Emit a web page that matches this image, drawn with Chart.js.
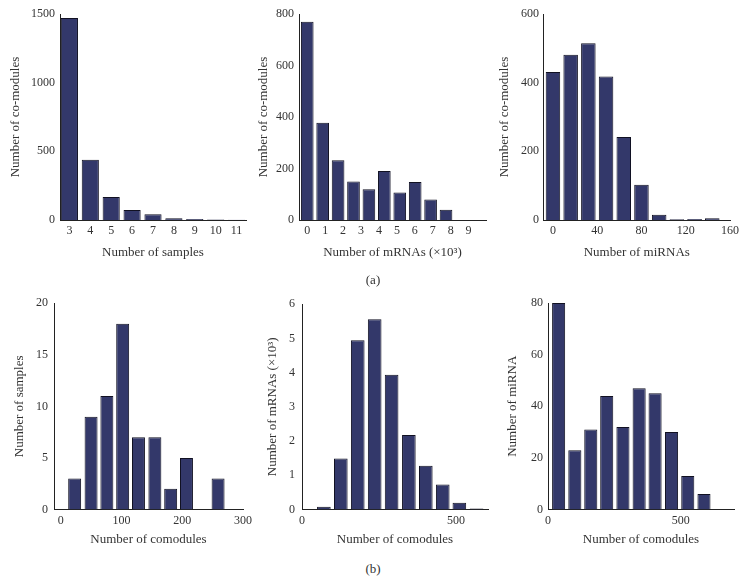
<!DOCTYPE html>
<html>
<head>
<meta charset="utf-8">
<script src="https://cdn.jsdelivr.net/npm/chart.js@4"></script>
<style>
  body { margin: 0; background: #fff; width: 746px; height: 582px; position: relative; overflow: hidden; }
  canvas { position: absolute; }
  .tag { position: absolute; width: 60px; margin-left: -30px; text-align: center;
         font: 13px "Liberation Serif", serif; color: #333; line-height: 16px; }
</style>
</head>
<body>
<canvas id="c1" width="250" height="260" style="left:8px;top:0px"></canvas>
<canvas id="c2" width="242" height="260" style="left:256px;top:0px"></canvas>
<canvas id="c3" width="246" height="260" style="left:497px;top:0px"></canvas>
<canvas id="c4" width="244" height="257" style="left:12px;top:290px"></canvas>
<canvas id="c5" width="235" height="257" style="left:265px;top:290px"></canvas>
<canvas id="c6" width="241" height="257" style="left:505px;top:290px"></canvas>
<div class="tag" style="left:373px;top:272px">(a)</div>
<div class="tag" style="left:373px;top:561px">(b)</div>
<script>
'use strict';

// (a) top row
const sampleBins = [3, 4, 5, 6, 7, 8, 9, 10, 11];
const sampleCounts = [1470, 439, 167, 73, 41, 12, 8, 3, 2];
const sampleTicks = [3, 4, 5, 6, 7, 8, 9, 10, 11];

const mrnaBins = [0, 0.86, 1.72, 2.58, 3.44, 4.3, 5.16, 6.02, 6.88, 7.74];
const mrnaCounts = [770, 378, 232, 150, 119, 190, 107, 148, 80, 40];
const mrnaTicks = [0, 1, 2, 3, 4, 5, 6, 7, 8, 9];

const mirnaBins = [0, 16, 32, 48, 64, 80, 96, 112, 128, 144];
const mirnaCounts = [431, 481, 515, 418, 242, 103, 15, 2, 3, 5];
const mirnaTicks = [0, 40, 80, 120, 160];

// (b) bottom row
const compSampleBins = [23, 50, 76, 102, 128, 155, 181, 207, 233, 259];
const compSampleCounts = [3, 9, 11, 18, 7, 7, 2, 5, 0, 3];
const compSampleTicks = [0, 100, 200, 300];

const compMrnaBins = [71, 126, 181, 236, 291, 347, 402, 457, 511, 567];
const compMrnaCounts = [0.08, 1.49, 4.95, 5.56, 3.94, 2.18, 1.28, 0.73, 0.2, 0.03];
const compMrnaTicks = [0, 500];

const compMirnaBins = [40, 101, 161, 221, 282, 343, 403, 465, 526, 587];
const compMirnaCounts = [80, 23, 31, 44, 32, 47, 45, 30, 13, 6];
const compMirnaTicks = [0, 500];

const barColor = '#33386a';
const edgeColor = '#111122';
const textColor = '#333';
const fontFamily = '"Liberation Serif", "DejaVu Serif", serif';

function setTicks(values) {
  return function (scale) {
    scale.ticks = values.map(v => ({ value: v }));
  };
}

function plainLabel(value) {
  return String(value);
}

function histChart(id, bins, counts, g) {
  let ctx = document.getElementById(id).getContext('2d');
  return new Chart(ctx, {
    type: 'bar',
    data: {
      datasets: [{
        data: bins.map((b, i) => ({ x: b, y: counts[i] })),
        backgroundColor: barColor,
        borderColor: edgeColor,
        borderWidth: 1,
        barPercentage: 0.82,
        categoryPercentage: 1
      }]
    },
    options: {
      responsive: false,
      animation: false,
      layout: { padding: { top: g.top, right: g.right, left: 0, bottom: 0 } },
      plugins: { legend: { display: false }, tooltip: { enabled: false } },
      scales: {
        x: {
          type: 'linear',
          offset: false,
          min: g.xMin,
          max: g.xMax,
          grid: { display: false, drawTicks: false },
          border: { display: true, color: '#222', width: 1 },
          ticks: { padding: 4, color: textColor, callback: plainLabel, font: { family: fontFamily, size: 12 } },
          afterBuildTicks: setTicks(g.xTicks),
          afterFit: function (scale) { scale.height = g.xHeight; },
          title: {
            display: true, text: g.xTitle, color: textColor, padding: 0,
            font: { family: fontFamily, size: 13 }
          }
        },
        y: {
          min: 0,
          max: g.yTicks[g.yTicks.length - 1],
          grid: { display: false, drawTicks: false },
          border: { display: true, color: '#222', width: 1 },
          ticks: { padding: g.yPad, color: textColor, callback: plainLabel, font: { family: fontFamily, size: 12 } },
          afterBuildTicks: setTicks(g.yTicks),
          afterFit: function (scale) { scale.width = g.yWidth; },
          title: {
            display: true, text: g.yTitle, color: textColor, padding: 0,
            font: { family: fontFamily, size: 13 }
          }
        }
      }
    }
  });
}

histChart('c1', sampleBins, sampleCounts, {
  top: 14, right: 12, xHeight: 40, yWidth: 52, yPad: 5,
  xMin: 2.55, xMax: 11.45, xTicks: sampleTicks, yTicks: [0, 500, 1000, 1500],
  xTitle: 'Number of samples', yTitle: 'Number of co-modules'
});
histChart('c2', mrnaBins, mrnaCounts, {
  top: 14, right: 12, xHeight: 40, yWidth: 43, yPad: 5,
  xMin: -0.46, xMax: 9.97, xTicks: mrnaTicks, yTicks: [0, 200, 400, 600, 800],
  xTitle: 'Number of mRNAs (×10³)', yTitle: 'Number of co-modules'
});
histChart('c3', mirnaBins, mirnaCounts, {
  top: 14, right: 12, xHeight: 40, yWidth: 46, yPad: 4,
  xMin: -9, xMax: 160.5, xTicks: mirnaTicks, yTicks: [0, 200, 400, 600],
  xTitle: 'Number of miRNAs', yTitle: 'Number of co-modules'
});
histChart('c4', compSampleBins, compSampleCounts, {
  top: 13, right: 12.5, xHeight: 37.5, yWidth: 42, yPad: 6,
  xMin: -11, xMax: 300, xTicks: compSampleTicks, yTicks: [0, 5, 10, 15, 20],
  xTitle: 'Number of comodules', yTitle: 'Number of samples'
});
histChart('c5', compMrnaBins, compMrnaCounts, {
  top: 13, right: 12, xHeight: 37.5, yWidth: 37, yPad: 7,
  xMin: 0, xMax: 604, xTicks: compMrnaTicks, yTicks: [0, 1, 2, 3, 4, 5, 6],
  xTitle: 'Number of comodules', yTitle: 'Number of mRNAs (×10³)'
});
histChart('c6', compMirnaBins, compMirnaCounts, {
  top: 13, right: 12, xHeight: 37.5, yWidth: 43, yPad: 5,
  xMin: 0, xMax: 700, xTicks: compMirnaTicks, yTicks: [0, 20, 40, 60, 80],
  xTitle: 'Number of comodules', yTitle: 'Number of miRNA'
});
</script>
</body>
</html>
